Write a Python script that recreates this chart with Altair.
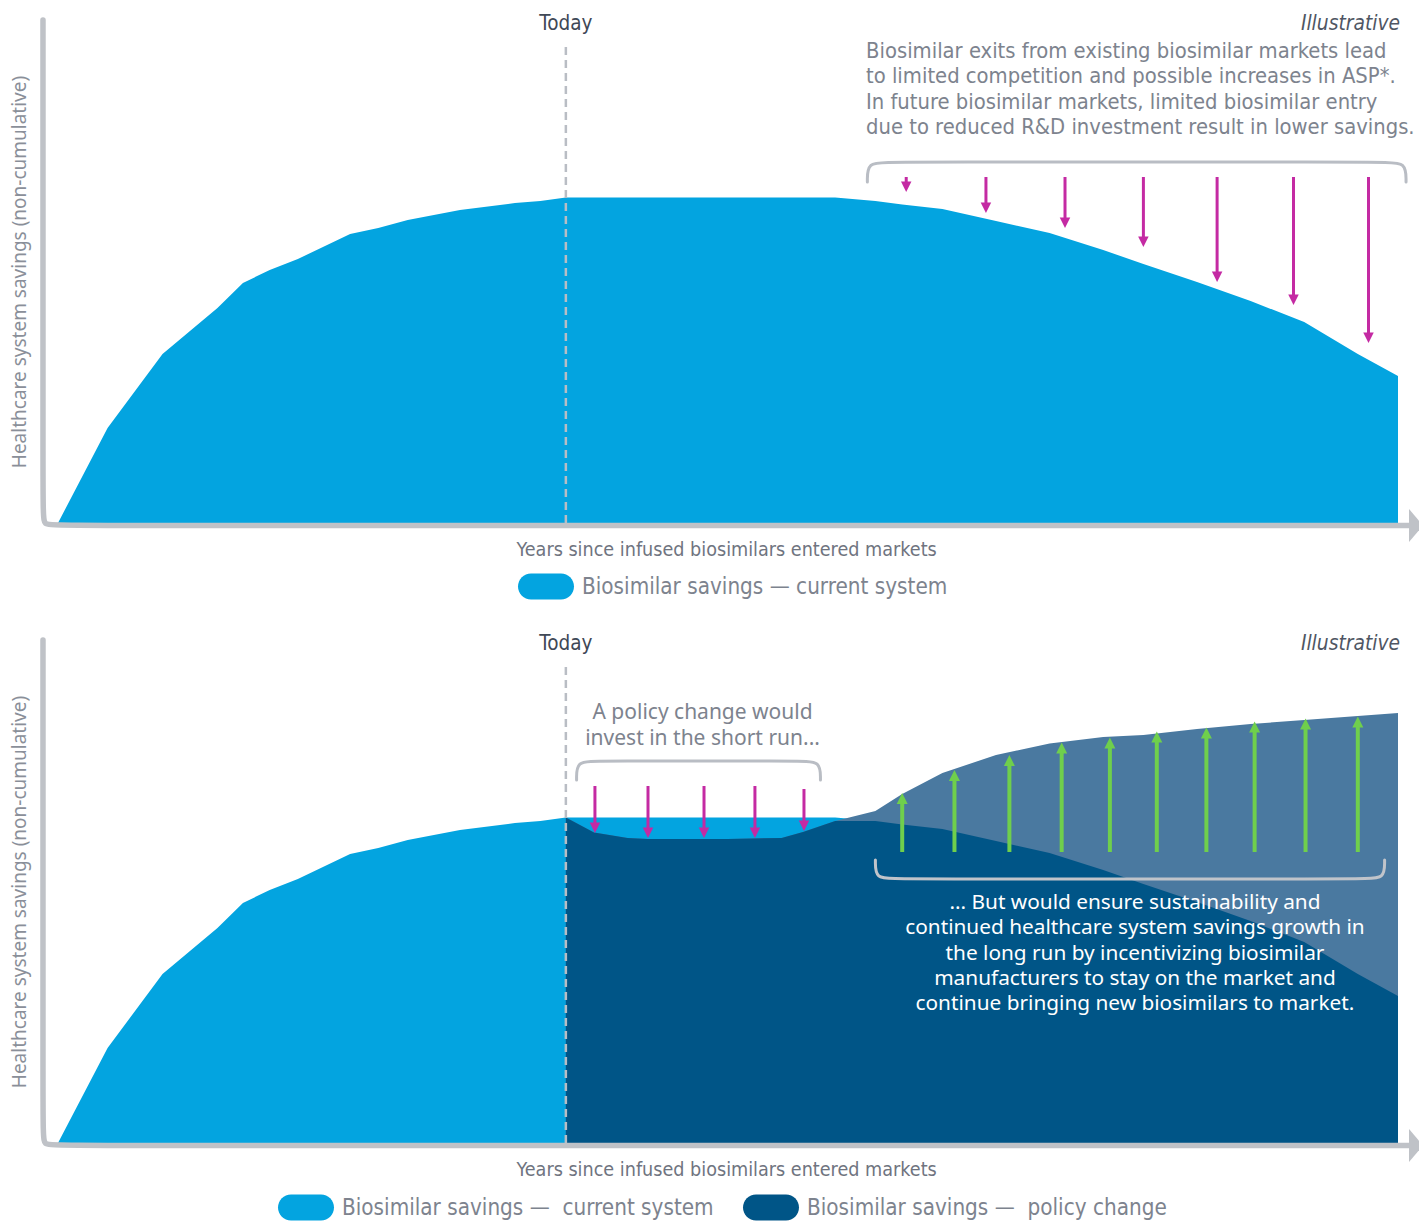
import altair as alt
import pandas as pd

# ---------------- data (relative units) ----------------
# x: time since infused biosimilars entered markets (0 = entry, 100 = end of horizon)
# y: healthcare system savings (relative, non-cumulative)
hist_x = [0, 3.7, 7.8, 11.9, 13.8, 15.8, 17.9, 21.8, 23.9, 26.1, 30.0, 34.1, 36.0]
hist_savings = [0, 19.0, 33.8, 43.0, 48.0, 50.6, 52.8, 57.8, 59.0, 60.6, 62.6, 64.0, 64.4]

future_x = [37.9, 40, 42.5, 44, 50, 54, 55.6, 58, 61, 63, 66, 70, 74, 78, 81, 85, 89, 93, 97, 100]
future_current = [65.1, 65.1, 65.1, 65.1, 65.1, 65.1, 65.1, 65.1, 64.4, 63.7, 62.8, 60.4,
                  58.0, 54.6, 51.8, 48.2, 44.4, 40.2, 33.8, 29.4]
future_policy = [65.1, 62.1, 61.0, 60.8, 60.8, 61.0, 62.2, 64.4, 66.4, 69.8, 74.0, 77.6,
                 79.9, 81.2, 81.6, 82.8, 83.8, 84.6, 85.4, 86.0]
today_x = 37.9

# arrows
exit_arrow_x = [63.3, 69.25, 75.15, 81.0, 86.5, 92.2, 97.8]
exit_arrow_start = [69.2, 69.2, 69.2, 69.2, 69.2, 69.2, 69.2]
exit_arrow_tip = [66.2, 62.0, 59.0, 55.2, 48.2, 43.6, 36.0]

invest_arrow_x = [40.07, 44.03, 48.21, 52.01, 55.67]
invest_arrow_start = [71.4, 71.4, 71.4, 71.4, 70.8]
invest_arrow_tip = [62.0, 61.0, 61.0, 61.0, 62.4]

growth_arrow_x = [63.0, 66.9, 71.0, 74.9, 78.5, 82.0, 85.7, 89.3, 93.1, 97.0]
growth_arrow_base = [58.2] * 10
growth_arrow_tip = [70.0, 74.6, 77.6, 80.1, 81.1, 82.3, 83.1, 84.3, 84.9, 85.3]

# axis frame and brackets (data units)
frame_x = [-1.12, -1.12, -1.12, 0.0, 100.9]
frame_y = [100.6, 2.3, -0.5, -0.5, -0.5]
axis_arrow_x = 101.34
axis_arrow_y = -0.5

bracket_exit_x = [60.4, 60.4, 62.0, 99.0, 100.6, 100.6]
bracket_exit_y = [68.2, 72.2, 72.2, 72.2, 72.2, 68.2]
bracket_invest_x = [38.7, 38.7, 40.2, 55.4, 56.9, 56.9]
bracket_invest_y = [72.6, 76.4, 76.4, 76.4, 76.4, 72.6]
bracket_growth_x = [61.0, 61.0, 62.5, 97.5, 99.0, 99.0]
bracket_growth_y = [56.6, 52.8, 52.8, 52.8, 52.8, 56.6]

# texts
y_title = "Healthcare system savings (non-cumulative)"
x_title = "Years since infused biosimilars entered markets"
today_label = "Today"
illustrative_label = "Illustrative"
exit_note = ["Biosimilar exits from existing biosimilar markets lead",
             "to limited competition and possible increases in ASP*.",
             "In future biosimilar markets, limited biosimilar entry",
             "due to reduced R&D investment result in lower savings."]
invest_note = ["A policy change would", "invest in the short run..."]
growth_note = ["... But would ensure sustainability and",
               "continued healthcare system savings growth in",
               "the long run by incentivizing biosimilar",
               "manufacturers to stay on the market and",
               "continue bringing new biosimilars to market."]
series_top = ["Biosimilar savings \u2014 current system"]
series_bottom = ["Biosimilar savings \u2014\u00a0 current system",
                 "Biosimilar savings \u2014\u00a0 policy change"]

# annotation anchors (data units; multi-line notes anchored at their first line)
label_top_y = 99.8
y_title_pos = (-2.84, 50.2)
x_title_pos = (49.9, -5.3)
illustrative_x = 100.15
exit_note_pos = (60.3, 94.5)
invest_note_pos = (48.1, 86.0)
growth_note_pos = (80.37, 48.0)
today_line_top = 95.6

# ---------------- style ----------------
LIGHT = "#03a4e0"
DARK = "#005587"
MID = "#4a79a0"
MAGENTA = "#c42aa3"
GREEN = "#6fcf4c"
AXIS_GRAY = "#bfc2c7"
TEXT_GRAY = "#7d838e"
TEXT_DARK = "#404856"
COND = "DejaVu Sans Condensed, Liberation Sans Narrow, sans-serif"
NOTO = "Noto Sans, Open Sans, sans-serif"

PILL = "M-1.154,-1L1.154,-1A1,1,0,0,1,1.154,1L-1.154,1A1,1,0,0,1,-1.154,-1Z"
HEAD_DOWN = "M-1,-1L1,-1L0,1Z"
HEAD_UP = "M-1,1L1,1L0,-1Z"
HEAD_RIGHT = "M-0.42,-1L0.42,0L-0.42,1Z"

W, H = 1419, 600
xs = alt.Scale(domain=[-4.328, 101.567], nice=False, zero=False)
ys = alt.Scale(domain=[-15.4, 104.6], nice=False, zero=False)


def X(f):
    return alt.X(f, type="quantitative", scale=xs, axis=None)


def Y(f):
    return alt.Y(f, type="quantitative", scale=ys, axis=None, stack=None)


def path_df(xv, yv):
    return pd.DataFrame({"x": xv, "y": yv, "i": list(range(len(xv)))})


def path_line(xv, yv, color, width, interp="basis"):
    return alt.Chart(path_df(xv, yv)).mark_line(
        interpolate=interp, color=color, strokeWidth=width, strokeCap="round", strokeJoin="round"
    ).encode(x=X("x"), y=Y("y"), order="i:Q")


def arrows(xv, start, tip, color, width, head, head_size, head_off):
    df = pd.DataFrame({"x": xv, "start": start, "tip": tip})
    shaft = alt.Chart(df).mark_rule(color=color, strokeWidth=width, y2Offset=head_off).encode(
        x=X("x"), y=Y("start"), y2=alt.Y2("tip"))
    tips = alt.Chart(df).mark_point(shape=head, filled=True, color=color, size=head_size,
                                    opacity=1, strokeWidth=0, yOffset=head_off).encode(
        x=X("x"), y=Y("tip"))
    return [shaft, tips]


def note(pos, text, **kw):
    df = pd.DataFrame({"x": [pos[0]], "y": [pos[1]]})
    return alt.Chart(df).mark_text(text=text, **kw).encode(x=X("x"), y=Y("y"))


def legend(lx, ly):
    return alt.Legend(orient="none", legendX=lx, legendY=ly, title=None, direction="horizontal",
                      symbolType=PILL, symbolSize=676, symbolStrokeWidth=0, symbolOpacity=1,
                      labelFont=COND, labelFontSize=22.3, labelColor=TEXT_GRAY, labelOffset=23,
                      labelLimit=700, columnPadding=28, padding=0, rowPadding=0, offset=0)


def common_layers():
    today_rule = alt.Chart(pd.DataFrame({"x": [today_x], "y": [0.0], "y2": [today_line_top]})).mark_rule(
        color="#b9bdc4", strokeWidth=2.5, strokeDash=[8, 5]).encode(x=X("x"), y=Y("y"), y2=alt.Y2("y2"))
    frame = path_line(frame_x, frame_y, AXIS_GRAY, 5.5)
    axis_arrow = alt.Chart(pd.DataFrame({"x": [axis_arrow_x], "y": [axis_arrow_y]})).mark_point(
        shape=HEAD_RIGHT, filled=True, color=AXIS_GRAY, size=1089, opacity=1, strokeWidth=0, clip=True
    ).encode(x=X("x"), y=Y("y"))
    today_txt = note((today_x, label_top_y), today_label, font=COND, fontSize=20.5, color=TEXT_DARK,
                     align="center", baseline="middle")
    illus_txt = note((illustrative_x, label_top_y), illustrative_label, font=COND, fontSize=20.8,
                     fontStyle="italic", color="#4f5663", align="right", baseline="middle")
    ytitle = note(y_title_pos, y_title, font=NOTO, fontSize=19, color="#8a8f99", angle=270,
                  align="center", baseline="middle")
    xtitle = note(x_title_pos, x_title, font=COND, fontSize=19.6, color="#6f7480", align="center",
                  baseline="middle")
    return [today_rule, frame, axis_arrow, today_txt, illus_txt, ytitle, xtitle]


# ---------------- top panel ----------------
top_df = pd.DataFrame({"x": hist_x + future_x, "savings": hist_savings + future_current,
                       "series": series_top[0]})
top_area = alt.Chart(top_df).mark_area(interpolate="linear").encode(
    x=X("x"), y=Y("savings"),
    color=alt.Color("series:N", scale=alt.Scale(domain=series_top, range=[LIGHT]),
                    legend=legend(533, 573.5)))
exit_text = note(exit_note_pos, exit_note, font=COND, fontSize=21.8, color=TEXT_GRAY, align="left",
                 baseline="middle", lineHeight=25.5, clip=True)
top = alt.layer(
    top_area,
    *common_layers(),
    path_line(bracket_exit_x, bracket_exit_y, "#b9bdc4", 3),
    *arrows(exit_arrow_x, exit_arrow_start, exit_arrow_tip, MAGENTA, 3, HEAD_DOWN, 110, -5.2),
    exit_text,
).properties(width=W, height=H)

# ---------------- bottom panel ----------------
cur_df = pd.DataFrame({"x": hist_x + future_x, "savings": hist_savings + future_current,
                       "series": series_bottom[0]})
fut_df = pd.DataFrame({"x": future_x, "current": future_current, "policy": future_policy})
color_bottom = alt.Scale(domain=series_bottom, range=[LIGHT, DARK])
light_area = alt.Chart(cur_df).mark_area(interpolate="linear").encode(
    x=X("x"), y=Y("savings"),
    color=alt.Color("series:N", scale=color_bottom, legend=legend(293, 574.5)))
mid_area = alt.Chart(fut_df).mark_area(interpolate="linear", color=MID).encode(
    x=X("x"), y=Y("policy"))
dark_area = alt.Chart(fut_df).transform_calculate(
    low="min(datum.current, datum.policy)", series="'%s'" % series_bottom[1]
).mark_area(interpolate="linear").encode(
    x=X("x"), y=Y("low"),
    color=alt.Color("series:N", scale=color_bottom, legend=legend(293, 574.5)))
invest_text = note(invest_note_pos, invest_note, font=NOTO, fontSize=21, color=TEXT_GRAY,
                   align="center", baseline="middle", lineHeight=26)
growth_text = note(growth_note_pos, growth_note, font=NOTO, fontSize=20.8, color="#ffffff",
                   align="center", baseline="middle", lineHeight=25.3)
bottom = alt.layer(
    light_area, mid_area, dark_area,
    *common_layers(),
    path_line(bracket_invest_x, bracket_invest_y, "#b9bdc4", 3),
    path_line(bracket_growth_x, bracket_growth_y, "#c0c4ca", 3),
    *arrows(invest_arrow_x, invest_arrow_start, invest_arrow_tip, MAGENTA, 3, HEAD_DOWN, 110, -5.2),
    *arrows(growth_arrow_x, growth_arrow_base, growth_arrow_tip, GREEN, 4, HEAD_UP, 121, 5.5),
    invest_text, growth_text,
).properties(width=W, height=H)

chart = alt.vconcat(top, bottom, spacing=20, bounds="flush").resolve_scale(
    color="independent").resolve_legend(color="independent").properties(
    padding=0, background="white").configure_view(strokeWidth=0, strokeOpacity=0)

chart.save("out.html", embed_options={"renderer": "svg", "actions": False})
